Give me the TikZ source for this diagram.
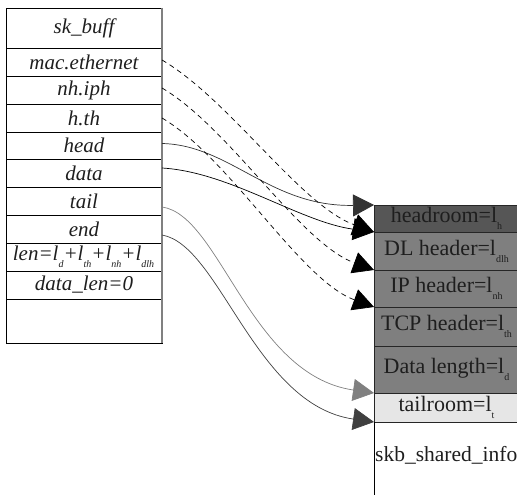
\documentclass[tikz,border=0pt]{standalone}
\usepackage{fontspec}
\setmainfont{Liberation Serif}[Ligatures=TeX]
\usetikzlibrary{arrows.meta}
\definecolor{hdgray}{HTML}{565656}
\definecolor{midgray}{HTML}{7F7F7F}
\definecolor{lightgray}{HTML}{E6E6E6}
\definecolor{textdark}{HTML}{1E1E1E}
\newcommand\sbs[1]{\raisebox{-7pt}{\fontsize{10}{10}\selectfont #1}}
\begin{document}
\begin{tikzpicture}[x=1pt,y=-1pt,
  cellL/.style={draw=black, line width=0.8pt, minimum width=156pt, anchor=north west, inner sep=0pt, outer sep=0pt, text=textdark, font=\fontsize{21}{23}\selectfont\itshape},
  cellR/.style={draw=black!85, line width=0.8pt, minimum width=145pt, anchor=north west, inner sep=0pt, outer sep=0pt, text=textdark, font=\fontsize{22}{24}\selectfont},
  conn/.style={line width=0.7pt, -{Triangle[length=21pt,width=22pt]}},
  dsh/.style={conn, dash pattern=on 5pt off 4pt}
]
\useasboundingbox (0,0) rectangle (517,495);
% left table
\node[cellL, minimum height=40pt] (skb) at (6,8) {sk\_buff};
\node[cellL, minimum height=28pt] (mac) at (6,48) {mac.ethernet};
\node[cellL, minimum height=28pt] (nh) at (6,76) {nh.iph};
\node[cellL, minimum height=28pt] (hth) at (6,104) {h.th};
\node[cellL, minimum height=27pt] (head) at (6,132) {head};
\node[cellL, minimum height=28pt] (data) at (6,159) {data};
\node[cellL, minimum height=28pt] (tail) at (6,187) {tail};
\node[cellL, minimum height=28pt] (end) at (6,215) {end};
\node[cellL, minimum height=28pt] (len) at (6,243) {\kern-1pt len=l\sbs{\itshape d}+l\sbs{\itshape th}+l\sbs{\itshape nh}+l\sbs{\itshape dlh}};
\node[cellL, minimum height=28pt] (dlen) at (6,271) {data\_len=0};
\node[cellL, minimum height=44pt] (empty) at (6,299) {};
\draw[draw=black!50, line width=1.6pt] (skb.north east) -- (empty.south east);
% right stack
\node[cellR, fill=hdgray, minimum height=27pt] (hr) at (374,205) {headroom=l\sbs{h}};
\node[cellR, fill=midgray, minimum height=38pt] (dl) at (374,232) {DL header=l\sbs{dlh}};
\node[cellR, fill=midgray, minimum height=37pt] (ip) at (374,270) {IP header=l\sbs{nh}};
\node[cellR, fill=midgray, minimum height=39pt] (tcp) at (374,307) {TCP header=l\sbs{th}};
\node[cellR, fill=midgray, minimum height=47pt] (dat) at (374,346) {Data length=l\sbs{d}};
\node[cellR, fill=lightgray, minimum height=29pt] (tr) at (374,393) {tailroom=l\sbs{t}};
\coordinate (shbot) at (374,495);
\draw[line width=0.8pt] (tr.south west) -- (shbot);
\node[font=\fontsize{21.5}{24}\selectfont, text=textdark, inner sep=0pt, anchor=west] (shi) at (375,455) {skb\_shared\_info};
% connectors
\draw[conn, draw=black!80] ([yshift=2pt]head.east) .. controls (230,145) and (270,207) .. (hr.north west);
\draw[conn, draw=black] ([yshift=5pt]data.east) .. controls (230,172) and (300,222) .. (hr.south west);
\draw[dsh] ([yshift=2pt]mac.east) .. controls (230,100) and (300,205) .. (dl.north west);
\draw[dsh] ([yshift=2pt]nh.east) .. controls (230,128) and (300,243) .. (ip.north west);
\draw[dsh] ([yshift=0pt]hth.east) .. controls (230,158) and (300,280) .. (tcp.north west);
\draw[conn, draw=black!50] ([yshift=-6pt]tail.east) .. controls (220,215) and (250,375) .. (dat.south west);
\draw[conn, draw=black!75] ([yshift=-6pt]end.east) .. controls (220,245) and (255,405) .. (tr.south west);
\end{tikzpicture}
\end{document}
